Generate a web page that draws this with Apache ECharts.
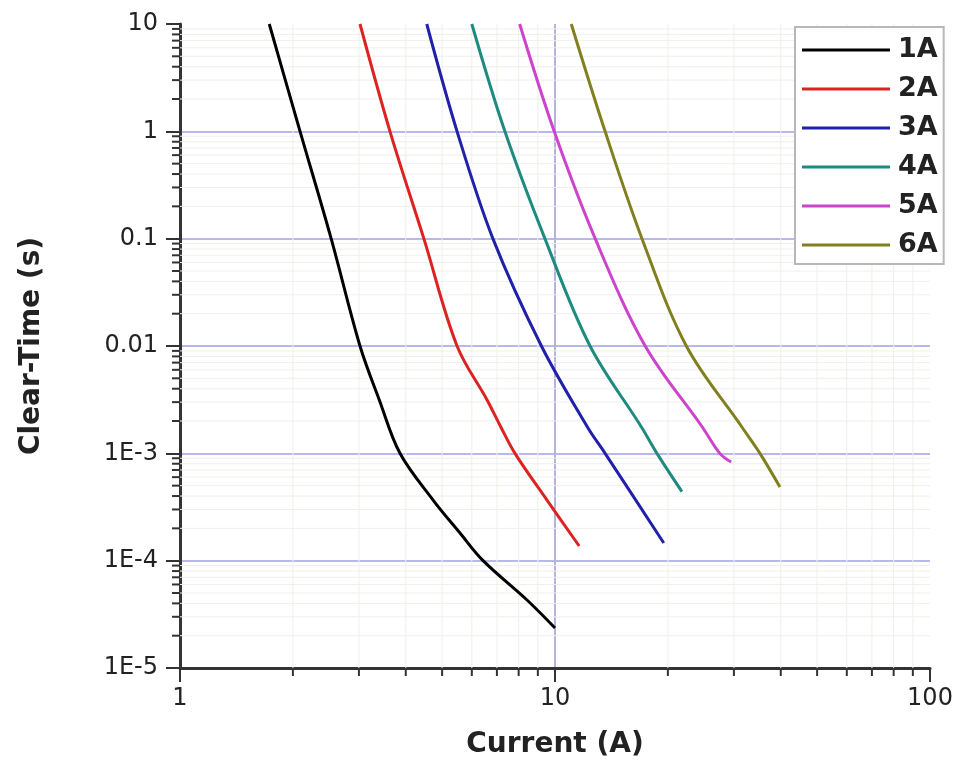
<!DOCTYPE html>
<html>
<head>
<meta charset="utf-8">
<title>Fuse clear-time curves</title>
<script src="https://cdn.jsdelivr.net/npm/echarts@6/dist/echarts.min.js"></script>
<style>
  html, body { margin: 0; padding: 0; background: #ffffff; }
  #chart { width: 960px; height: 771px; }
</style>
</head>
<body>
<div id="chart"></div>
<script>
// Time-current characteristic of six fuse ratings: [current (A), clear time (s)]
const seriesNames = ['1A', '2A', '3A', '4A', '5A', '6A'];

const fuse1A = [[1.73, 10], [2.09, 1], [2.53, 0.1], [3.02, 0.01], [3.4, 3.14e-3], [3.86, 1e-3],
  [4.73, 3.67e-4], [5.58, 1.81e-4], [6.43, 1e-4], [8.42, 4.3e-5], [10, 2.36e-5]];
const fuse2A = [[3.02, 10], [3.63, 1], [4.47, 0.1], [5.48, 0.01], [6.59, 3.14e-3], [7.17, 1.76e-3],
  [7.82, 1e-3], [9.52, 3.67e-4], [11.6, 1.37e-4]];
const fuse3A = [[4.55, 10], [5.48, 1], [6.83, 0.1], [9.2, 0.01], [12.2, 1.76e-3], [13.6, 1e-3],
  [19.5, 1.46e-4]];
const fuse4A = [[6.0, 10], [7.35, 1], [9.4, 0.1], [12.4, 0.01], [17.0, 1.76e-3], [18.7, 1e-3],
  [21.8, 4.4e-4]];
const fuse5A = [[8.05, 10], [9.95, 1], [12.8, 0.1], [17.4, 0.01], [24.7, 1.76e-3], [27.5, 1e-3],
  [29.5, 8.3e-4]];
const fuse6A = [[11.05, 10], [13.6, 1], [17.06, 0.1], [22.4, 0.01], [31.5, 1.76e-3], [35.2, 1e-3],
  [39.8, 4.85e-4]];

const seriesData = [fuse1A, fuse2A, fuse3A, fuse4A, fuse5A, fuse6A];
const seriesColors = ['#000000', '#dd2222', '#2020a8', '#1f8a80', '#cc44cc', '#808020'];

// Tick labels by decade
const xTickLabels = ['1', '10', '100'];
const yTickLabels = ['1E-5', '1E-4', '1E-3', '0.01', '0.1', '1', '10'];

// Intermediate (2..9) log ticks
const xMinorTicks = [2, 3, 4, 5, 6, 7, 8, 9, 20, 30, 40, 50, 60, 70, 80, 90];
const yMinorTicks = [];
[1e-5, 1e-4, 1e-3, 1e-2, 1e-1, 1].forEach(function (d) {
  for (let k = 2; k <= 9; k++) yMinorTicks.push(+(d * k).toPrecision(3));
});

const X_MIN = 1, X_MAX = 100, Y_MIN = 1e-5, Y_MAX = 10;
const FONT = 'DejaVu Sans';

const chart = echarts.init(document.getElementById('chart'), null, { renderer: 'canvas' });

function decadeIndex(v, min) {
  return Math.round(Math.log10(v) - Math.log10(min));
}

const lineSeries = seriesNames.map(function (name, i) {
  return {
    name: name,
    type: 'line',
    data: seriesData[i],
    showSymbol: false,
    symbol: 'none',
    smooth: 0.35,
    z: 5,
    lineStyle: { color: seriesColors[i], width: 3 },
    itemStyle: { color: seriesColors[i] }
  };
});

// Minor tick marks and faint minor grid on the current axis
const xMinorSeries = {
  type: 'custom',
  name: 'xMinor',
  silent: true,
  z: 1,
  data: xMinorTicks.map(function (v) { return [v, Y_MIN]; }),
  renderItem: function (params, api) {
    const v = api.value(0);
    const p0 = api.coord([v, Y_MIN]);
    const p1 = api.coord([v, Y_MAX]);
    return {
      type: 'group',
      children: [
        { type: 'line', shape: { x1: p0[0], y1: p0[1], x2: p1[0], y2: p1[1] },
          style: { stroke: '#eef1ea', lineWidth: 1 }, z2: 0 },
        { type: 'line', shape: { x1: p0[0], y1: p0[1], x2: p0[0], y2: p0[1] + 8 },
          style: { stroke: '#333333', lineWidth: 2 }, z2: 10 }
      ]
    };
  }
};

// Minor tick marks and faint minor grid on the time axis
const yMinorSeries = {
  type: 'custom',
  name: 'yMinor',
  silent: true,
  z: 1,
  data: yMinorTicks.map(function (v) { return [X_MIN, v]; }),
  renderItem: function (params, api) {
    const v = api.value(1);
    const p0 = api.coord([X_MIN, v]);
    const p1 = api.coord([X_MAX, v]);
    return {
      type: 'group',
      children: [
        { type: 'line', shape: { x1: p0[0], y1: p0[1], x2: p1[0], y2: p1[1] },
          style: { stroke: '#eef1ea', lineWidth: 1 }, z2: 0 },
        { type: 'line', shape: { x1: p0[0] - 8, y1: p0[1], x2: p0[0], y2: p0[1] },
          style: { stroke: '#333333', lineWidth: 2 }, z2: 10 }
      ]
    };
  }
};

const option = {
  animation: false,
  backgroundColor: '#ffffff',
  grid: { left: 180, right: 30, top: 24, bottom: 103, containLabel: false },
  legend: {
    data: seriesNames,
    orient: 'vertical',
    left: 795,
    top: 27,
    padding: [9, 6, 5, 7],
    itemGap: 11,
    itemWidth: 88,
    itemHeight: 3,
    icon: 'rect',
    backgroundColor: '#ffffff',
    borderColor: '#b8b8b8',
    borderWidth: 2,
    borderRadius: 0,
    textStyle: { fontFamily: FONT, fontSize: 27, fontWeight: 'bold', lineHeight: 28, color: '#222222', padding: [0, 0, 0, 3] }
  },
  xAxis: {
    type: 'log',
    logBase: 10,
    min: X_MIN,
    max: X_MAX,
    name: 'Current (A)',
    nameLocation: 'middle',
    nameGap: 63,
    nameTextStyle: { fontFamily: FONT, fontSize: 28, fontWeight: 'bold', color: '#222222' },
    axisLine: { show: true, onZero: false, lineStyle: { color: '#333333', width: 3 } },
    axisTick: { show: true, inside: false, length: 14, lineStyle: { color: '#333333', width: 2 } },
    minorTick: { show: false },
    axisLabel: {
      margin: 19,
      fontFamily: FONT,
      fontSize: 24,
      color: '#222222',
      formatter: function (v) { return xTickLabels[decadeIndex(v, X_MIN)]; }
    },
    splitLine: { show: true, showMinLine: false, showMaxLine: false, lineStyle: { color: '#b4b4d8', width: 2 } }
  },
  yAxis: {
    type: 'log',
    logBase: 10,
    min: Y_MIN,
    max: Y_MAX,
    name: 'Clear-Time (s)',
    nameLocation: 'middle',
    nameGap: 134,
    nameRotate: 90,
    nameTextStyle: { fontFamily: FONT, fontSize: 28, fontWeight: 'bold', color: '#222222' },
    axisLine: { show: true, onZero: false, lineStyle: { color: '#333333', width: 3 } },
    axisTick: { show: true, inside: false, length: 14, lineStyle: { color: '#333333', width: 2 } },
    minorTick: { show: false },
    axisLabel: {
      margin: 22,
      fontFamily: FONT,
      fontSize: 24,
      color: '#222222',
      formatter: function (v) { return yTickLabels[decadeIndex(v, Y_MIN)]; }
    },
    splitLine: { show: true, showMinLine: false, showMaxLine: false, lineStyle: { color: '#b8b8ee', width: 2 } }
  },
  series: [xMinorSeries, yMinorSeries].concat(lineSeries)
};

chart.setOption(option);
</script>
</body>
</html>
